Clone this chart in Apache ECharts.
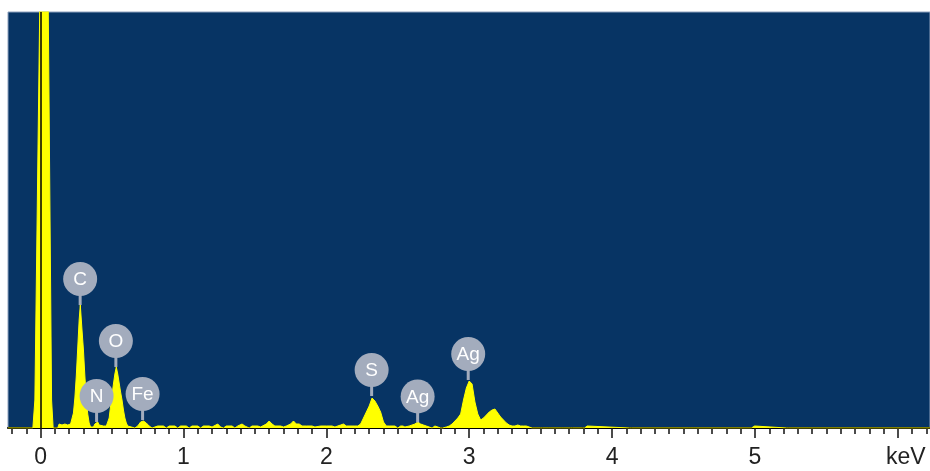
<!DOCTYPE html>
<html>
<head>
<meta charset="utf-8">
<script src="https://cdn.jsdelivr.net/npm/echarts@6/dist/echarts.min.js"></script>
<style>
html,body{margin:0;padding:0;background:#fff;}
#chart{width:930px;height:471px;}
</style>
</head>
<body>
<div id="chart"></div>
<script>
// Spectrum: energy (keV) and counts
const energy = [
 -0.228,-0.054,-0.040,-0.005,0.025,0.053,0.077,0.088,0.12,0.13,0.15,0.17,0.19,0.21,
 0.22,0.23,0.24,0.25,0.26,0.27,0.278,0.29,0.30,0.31,0.32,0.33,0.34,0.35,
 0.37,0.38,0.39,0.40,0.41,0.42,0.44,0.46,
 0.47,0.48,0.49,0.50,0.51,0.52,0.53,0.54,0.55,0.56,0.57,0.58,0.59,0.60,0.61,0.62,
 0.66,0.68,0.69,0.70,0.72,0.74,0.76,0.78,
 0.80,0.82,0.86,0.88,0.90,0.94,0.96,0.98,1.02,1.04,1.06,1.10,1.12,1.14,1.18,1.20,
 1.24,1.26,1.28,1.30,1.34,1.36,1.38,1.41,1.43,1.46,1.48,1.52,1.54,1.58,1.60,1.62,
 1.64,1.68,1.70,1.72,1.75,1.77,1.79,1.81,1.83,1.86,1.90,1.92,1.96,2.00,2.04,2.06,
 2.10,2.12,2.14,2.18,2.20,
 2.22,2.24,2.26,2.28,2.30,2.32,2.33,2.34,2.36,2.38,2.40,2.42,
 2.44,2.48,2.50,2.52,2.536,2.55,2.58,2.60,2.62,2.64,2.66,2.68,2.70,2.72,2.74,
 2.753,2.76,2.767,2.80,2.807,2.814,
 2.84,2.86,2.88,2.90,2.92,2.94,2.96,2.98,3.00,3.01,3.02,3.04,3.06,3.08,
 3.10,3.12,3.14,3.16,3.18,3.20,3.22,3.24,3.26,3.28,3.30,3.32,3.34,3.36,3.38,3.40,3.42,3.44,
 3.500,3.507,3.514,3.558,3.565,3.572,3.649,3.656,3.663,3.710,3.717,3.724,
 3.793,3.800,3.807,3.819,3.826,3.833,4.123,4.130,4.137,
 4.538,4.545,4.552,4.573,4.580,4.587,4.975,4.982,4.998,5.005,
 5.223,5.230,5.237,5.378,5.385,5.392,6.225
];
const counts = [
 0,0,140,2150,4500,2150,140,0,0,20,15,20,15,20,
 30,75,150,260,400,540,615,490,390,260,150,70,25,5,
 5,20,30,30,15,5,10,10,
 15,50,110,165,220,270,305,270,225,180,140,90,50,25,10,0,
 0,10,20,30,35,25,10,0,
 5,10,10,0,10,10,0,10,10,0,10,10,0,10,10,5,
 20,5,0,10,10,0,10,20,10,0,10,10,5,20,35,20,
 10,10,5,10,20,35,20,20,10,10,10,5,10,10,10,5,
 15,20,10,10,10,
 10,20,50,80,110,150,160,135,110,80,30,10,
 10,10,0,10,10,5,10,15,20,30,20,15,10,5,0,
 0,10,0,0,10,0,
 5,10,20,35,50,70,140,200,235,240,220,130,70,40,
 50,65,80,90,95,75,55,40,25,15,10,10,15,10,10,10,5,0,
 0,10,0,0,10,0,0,10,0,0,10,0,
 0,10,0,0,10,0,0,10,0,
 0,10,0,0,10,0,0,10,10,0,
 0,10,0,0,10,0,0
];

// Peak identification labels
const peakNames = ['C','N','O','Fe','S','Ag','Ag'];
const peakEnergy = [0.277, 0.392, 0.527, 0.714, 2.317, 2.639, 2.993];
const peakCounts = [615, 30, 305, 40, 160, 28, 240];

// Axis ticks
const majorTicks = [0,1,2,3,4,5,6];
const tickLabels = ['0','1','2','3','4','5','keV'];
const minorTicks = [];
for (let i = -2; i <= 62; i++) minorTicks.push(+(i/10).toFixed(1));

const X_MIN = -0.228, X_MAX = 6.225, Y_MAX = 2080;
const labelGrey = '#a3acbd';

const chart = echarts.init(document.getElementById('chart'), null, {renderer:'canvas'});
chart.setOption({
  animation:false,
  grid:{left:8, right:-1, top:12, bottom:43, show:true, backgroundColor:'#073464', borderColor:'#8ea1bd', borderWidth:1},
  xAxis:[{
    type:'value', min:X_MIN, max:X_MAX, position:'bottom',
    axisLine:{show:true, onZero:false, lineStyle:{color:'#000', width:2}},
    axisTick:{show:true, length:10, customValues:majorTicks, lineStyle:{color:'#111', width:1.5}},
    axisLabel:{show:true, customValues:majorTicks, margin:18, fontSize:23, color:'#222', fontFamily:'Liberation Sans',
      formatter:function(v){ const i = majorTicks.indexOf(Math.round(v)); const t = tickLabels[i]; return t === 'keV' ? '{k|keV}' : t; },
      rich:{k:{fontSize:23, color:'#222', fontFamily:'Liberation Sans', padding:[0,0,0,16]}}},
    splitLine:{show:false}
  },{
    type:'value', min:X_MIN, max:X_MAX, position:'bottom',
    axisLine:{show:false},
    axisTick:{show:true, length:6, customValues:minorTicks, lineStyle:{color:'#111', width:1.5}},
    axisLabel:{show:false}, splitLine:{show:false}
  }],
  yAxis:{type:'value', min:0, max:Y_MAX, show:false},
  series:[{
    type:'line', xAxisIndex:0, symbol:'none', clip:true,
    data: energy.map((e,i)=>[e, counts[i]]),
    lineStyle:{color:'#ffff00', width:1},
    areaStyle:{color:'#ffff00', opacity:1},
    markLine:{silent:true, symbol:'none', label:{show:false},
      lineStyle:{color:'#000', width:1.5, type:'solid'},
      data:[{xAxis:0}]}
  },{
    type:'custom', xAxisIndex:0, z:5,
    data: peakEnergy.map((e,i)=>[e, peakCounts[i]]),
    renderItem:function(params, api){
      const p = api.coord([api.value(0), api.value(1)]);
      const off = 26, r = 17;
      return {type:'group', children:[
        {type:'line', shape:{x1:p[0], y1:p[1], x2:p[0], y2:p[1]-off}, style:{stroke:labelGrey, lineWidth:3}},
        {type:'circle', shape:{cx:p[0], cy:p[1]-off, r:r}, style:{fill:labelGrey}},
        {type:'text', style:{text:peakNames[params.dataIndex], x:p[0], y:p[1]-off+1, align:'center', verticalAlign:'middle',
          fill:'#ffffff', font:'19px "Liberation Sans"'}}
      ]};
    }
  }]
});
</script>
</body>
</html>
